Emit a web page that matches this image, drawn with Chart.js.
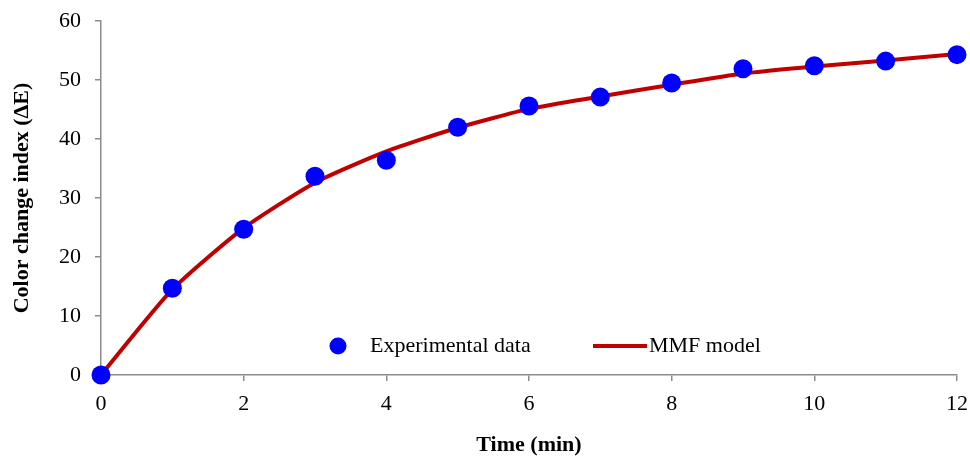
<!DOCTYPE html>
<html>
<head>
<meta charset="utf-8">
<script src="https://cdn.jsdelivr.net/npm/chart.js@4"></script>
<style>
  html, body { margin: 0; padding: 0; background: #fff; }
  #wrap { width: 970px; height: 457px; }
</style>
</head>
<body>
<div id="wrap"><canvas id="colorChart"></canvas></div>
<script>
// time in minutes
const times = [0, 1, 2, 3, 4, 5, 6, 7, 8, 9, 10, 11, 12];
// measured colour change index
const experimental = [0, 14.7, 24.7, 33.7, 36.4, 42.0, 45.6, 47.1, 49.5, 51.9, 52.4, 53.2, 54.3];
// fitted MMF model
const mmfModel = [0, 14.5, 24.9, 32.6, 37.9, 41.9, 45.1, 47.2, 49.2, 51.1, 52.3, 53.3, 54.4];

const serif = "'Liberation Serif', 'Times New Roman', serif";
const axisGrey = '#8c8c8c';

const insideLegend = {
  id: 'insideLegend',
  afterDatasetsDraw(chart) {
    const { ctx, chartArea } = chart;
    const y = chartArea.bottom - 29;
    const x0 = chartArea.left;
    ctx.save();
    ctx.fillStyle = '#0000ff';
    ctx.beginPath();
    ctx.arc(x0 + 237, y, 8.5, 0, Math.PI * 2);
    ctx.fill();
    ctx.strokeStyle = '#c00000';
    ctx.lineWidth = 4;
    ctx.beginPath();
    ctx.moveTo(x0 + 492, y);
    ctx.lineTo(x0 + 546, y);
    ctx.stroke();
    ctx.fillStyle = '#000';
    ctx.font = '22px ' + serif;
    ctx.textBaseline = 'middle';
    ctx.fillText('Experimental data', x0 + 269, y);
    ctx.fillText('MMF model', x0 + 548, y);
    ctx.restore();
  }
};

new Chart(document.getElementById('colorChart'), {
  type: 'scatter',
  data: {
    datasets: [{
      label: 'Experimental data',
      data: times.map((t, i) => ({ x: t, y: experimental[i] })),
      backgroundColor: '#0000ff',
      borderColor: '#0000ff',
      pointRadius: 9.5,
      pointHoverRadius: 9.5,
      borderWidth: 0,
      clip: false
    }, {
      type: 'line',
      label: 'MMF model',
      data: times.map((t, i) => ({ x: t, y: mmfModel[i] })),
      borderColor: '#c00000',
      borderWidth: 4,
      pointRadius: 0,
      tension: 0.2,
      fill: false,
      clip: false
    }]
  },
  options: {
    responsive: true,
    maintainAspectRatio: false,
    animation: false,
    layout: { padding: { top: 21, right: 13, left: 0, bottom: 0 } },
    plugins: {
      legend: { display: false },
      tooltip: { enabled: false }
    },
    scales: {
      x: {
        type: 'linear',
        min: 0,
        max: 12,
        afterFit: s => {
          s.height = 82;
          s.paddingLeft = 0;
          s.paddingRight = 0;
        },
        border: { color: axisGrey, width: 1.5 },
        grid: { drawOnChartArea: false, tickLength: 6, color: axisGrey, lineWidth: 1.5 },
        ticks: { stepSize: 2, padding: 10, color: '#000', font: { family: serif, size: 22 } },
        title: {
          display: true,
          text: 'Time (min)',
          color: '#000',
          font: { family: serif, size: 22, weight: 'bold' },
          padding: { top: 0, bottom: -2 }
        }
      },
      y: {
        min: 0,
        max: 60,
        afterFit: s => {
          s.width = 101;
          s.paddingTop = 0;
          s.paddingBottom = 0;
        },
        border: { color: axisGrey, width: 1.5 },
        grid: { drawOnChartArea: false, tickLength: 6, color: axisGrey, lineWidth: 1.5 },
        ticks: { stepSize: 10, padding: 14, color: '#000', font: { family: serif, size: 22 } },
        title: {
          display: true,
          text: 'Color change index (ΔE)',
          color: '#000',
          font: { family: serif, size: 22, weight: 'bold' },
          padding: { top: 9, bottom: 0 }
        }
      }
    }
  },
  plugins: [insideLegend]
});
</script>
</body>
</html>
